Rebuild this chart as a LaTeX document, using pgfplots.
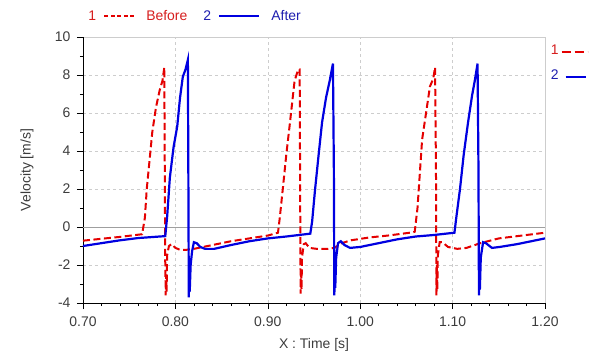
\documentclass[border=0pt]{standalone}
\usepackage{fontspec}
\setmainfont{Liberation Sans}
\usepackage{pgfplots}
\pgfplotsset{compat=1.18}
\definecolor{redline}{RGB}{228,0,0}
\definecolor{blueline}{RGB}{0,0,224}
\definecolor{redtext}{RGB}{214,30,30}
\definecolor{bluetext}{RGB}{30,30,175}
\definecolor{gridgray}{RGB}{205,205,205}
\definecolor{ticktext}{RGB}{60,60,60}
\begin{document}
\begin{tikzpicture}[x=1bp,y=1bp]
\path (-83,-55) rectangle (513,303);
% frame (gray top/right) and right-side legend
\begin{axis}[at={(0,0)}, anchor=south west, scale only axis, width=462bp, height=266bp,
  xmin=0.7, xmax=1.2, ymin=-4, ymax=10, xtick=\empty, ytick=\empty,
  axis line style={gridgray, line width=0.8bp},
  legend plot pos=right,
  legend style={at={(axis description cs:1.008,0.978)}, anchor=north west, draw=none, fill=none,
    inner sep=0pt, row sep=10bp, font=\fontsize{14}{16}\selectfont, nodes={inner sep=2bp}},
  legend cell align=left]
\addlegendimage{legend image code/.code={\draw[redline, line width=2bp, dash pattern=on 9bp off 4bp] (8bp,-1bp) -- (34bp,-1bp);}}
\addlegendentry{\textcolor{redtext}{1}}
\addlegendimage{legend image code/.code={\draw[blueline, line width=2bp] (12bp,-1bp) -- (32bp,-1bp);}}
\addlegendentry{\textcolor{bluetext}{2}}
\end{axis}
\begin{axis}[at={(0,0)}, anchor=south west, scale only axis, width=462bp, height=266bp,
  xmin=0.7, xmax=1.2, ymin=-4, ymax=10,
  axis x line*=bottom, axis y line*=left,
  axis line style={black, line width=0.8bp},
  xtick={0.7,0.8,0.9,1.0,1.1,1.2},
  xticklabels={0.70,0.80,0.90,1.00,1.10,1.20},
  ytick={-4,-2,0,2,4,6,8,10},
  minor x tick num=4, minor y tick num=1,
  tick align=outside, major tick length=6bp, minor tick length=3bp,
  tick style={black, line width=0.6bp},
  /pgf/number format/assume math mode=true,
  tick label style={font=\fontsize{14}{16}\selectfont, text=ticktext},
  xticklabel style={yshift=-4bp},
  yticklabel style={xshift=-3bp},
  grid=major, major grid style={gridgray, dash pattern=on 3bp off 3bp, line width=0.6bp},
  extra y ticks={0}, extra y tick labels={},
  extra y tick style={major grid style={solid, gray!75, line width=0.8bp}, major tick length=0pt},
  xlabel={X : Time [s]}, ylabel={Velocity [m/s]},
  every axis x label/.style={at={(axis description cs:0.5,-0.158)}, anchor=center,
    font=\fontsize{14}{16}\selectfont, text=ticktext},
  every axis y label/.style={at={(axis description cs:-0.121,0.5)}, anchor=center, rotate=90,
    font=\fontsize{14}{16}\selectfont, text=ticktext},
  legend style={at={(axis description cs:0.011,1.079)}, anchor=west, draw=none, fill=none,
    inner sep=0pt, legend columns=2, font=\fontsize{14}{16}\selectfont, nodes={inner sep=2bp},
    /tikz/every even column/.append style={column sep=14bp}},
  legend cell align=left]
\addplot[redline, line width=2bp, dash pattern=on 7bp off 3.5bp,
  legend image code/.code={\node[anchor=west, inner sep=0pt, text=redtext, font=\fontsize{14}{16}\selectfont] at (0bp,0bp) {1};
    \draw[redline, line width=1.8bp, dash pattern=on 4bp off 2.5bp] (17bp,0bp) -- (47bp,0bp);
    \node[inner sep=0pt, minimum size=0pt] at (56bp,0bp) {};}]
coordinates {
(0.700,-0.72) (0.720,-0.62) (0.740,-0.52) (0.764,-0.38) (0.767,0.5) (0.769,2.0) (0.772,3.5)
(0.775,5.0) (0.779,6.3) (0.783,7.2) (0.786,7.7) (0.788,8.4) (0.7885,3.0) (0.789,-1.8)
(0.7895,-3.6) (0.790,-2.5) (0.7905,-3.4) (0.791,-1.5) (0.793,-1.0) (0.796,-0.9) (0.800,-1.1)
(0.805,-1.2) (0.812,-1.2) (0.820,-1.15) (0.840,-0.95) (0.860,-0.75) (0.880,-0.6) (0.900,-0.45)
(0.911,-0.3) (0.913,0.5) (0.916,1.9) (0.920,3.8) (0.924,5.5) (0.929,7.7) (0.933,8.3)
(0.9345,8.3) (0.935,2.0) (0.9355,-3.5) (0.936,-2.2) (0.9365,-3.3) (0.937,-1.6) (0.939,-0.9)
(0.941,-0.85) (0.945,-1.1) (0.953,-1.15) (0.965,-1.15) (0.972,-1.1) (0.980,-0.85) (0.990,-0.7)
(1.010,-0.55) (1.030,-0.45) (1.057,-0.28)
(1.059,-0.25) (1.062,1.0) (1.067,4.6) (1.0755,7.4) (1.079,7.8) (1.081,8.4) (1.082,3.0)
(1.0825,-3.6) (1.083,-2.0) (1.0835,-3.3) (1.084,-1.5) (1.086,-0.8) (1.089,-0.8) (1.095,-1.05)
(1.105,-1.15) (1.115,-1.1) (1.130,-0.85) (1.150,-0.6) (1.175,-0.45) (1.200,-0.3)
};
\addlegendentry{\textcolor{redtext}{Before}}
\addplot[blueline, line width=2.2bp,
  legend image code/.code={\node[anchor=west, inner sep=0pt, text=bluetext, font=\fontsize{14}{16}\selectfont] at (0bp,0bp) {2};
    \draw[blueline, line width=1.8bp] (17bp,0bp) -- (57bp,0bp);
    \node[inner sep=0pt, minimum size=0pt] at (66bp,0bp) {};}]
coordinates {
(0.700,-1.0) (0.720,-0.85) (0.740,-0.7) (0.760,-0.58) (0.789,-0.48) (0.791,0.5) (0.794,2.6)
(0.798,4.2) (0.802,5.3) (0.805,6.8) (0.808,7.9) (0.811,8.3) (0.8135,8.8) (0.814,3.0)
(0.8145,-3.7) (0.815,-2.5) (0.8155,-3.4) (0.8165,-2.0) (0.818,-1.3) (0.820,-0.8) (0.823,-0.85)
(0.827,-1.05) (0.832,-1.15) (0.842,-1.15) (0.860,-0.95) (0.880,-0.75) (0.900,-0.6) (0.920,-0.5)
(0.946,-0.35) (0.948,0.3) (0.951,1.9) (0.955,3.8) (0.9587,5.5) (0.963,6.8) (0.967,7.7)
(0.9705,8.6) (0.9715,3.0) (0.972,-3.6) (0.9725,-2.3) (0.973,-3.2) (0.974,-1.6) (0.976,-0.85)
(0.979,-0.75) (0.983,-0.95) (0.989,-1.1) (1.000,-1.05) (1.020,-0.85) (1.040,-0.65) (1.060,-0.5)
(1.080,-0.42) (1.102,-0.3) (1.104,0.5) (1.108,2.0) (1.112,3.8) (1.1167,5.5) (1.121,6.9)
(1.124,7.7) (1.127,8.6) (1.128,3.0) (1.1285,-3.6) (1.129,-2.2) (1.1295,-3.3) (1.1305,-1.6)
(1.133,-0.8) (1.136,-0.85) (1.1426,-1.1) (1.151,-1.05) (1.170,-0.9) (1.185,-0.75) (1.200,-0.6)
};
\addlegendentry{\textcolor{bluetext}{After}}
\end{axis}
\end{tikzpicture}
\end{document}
